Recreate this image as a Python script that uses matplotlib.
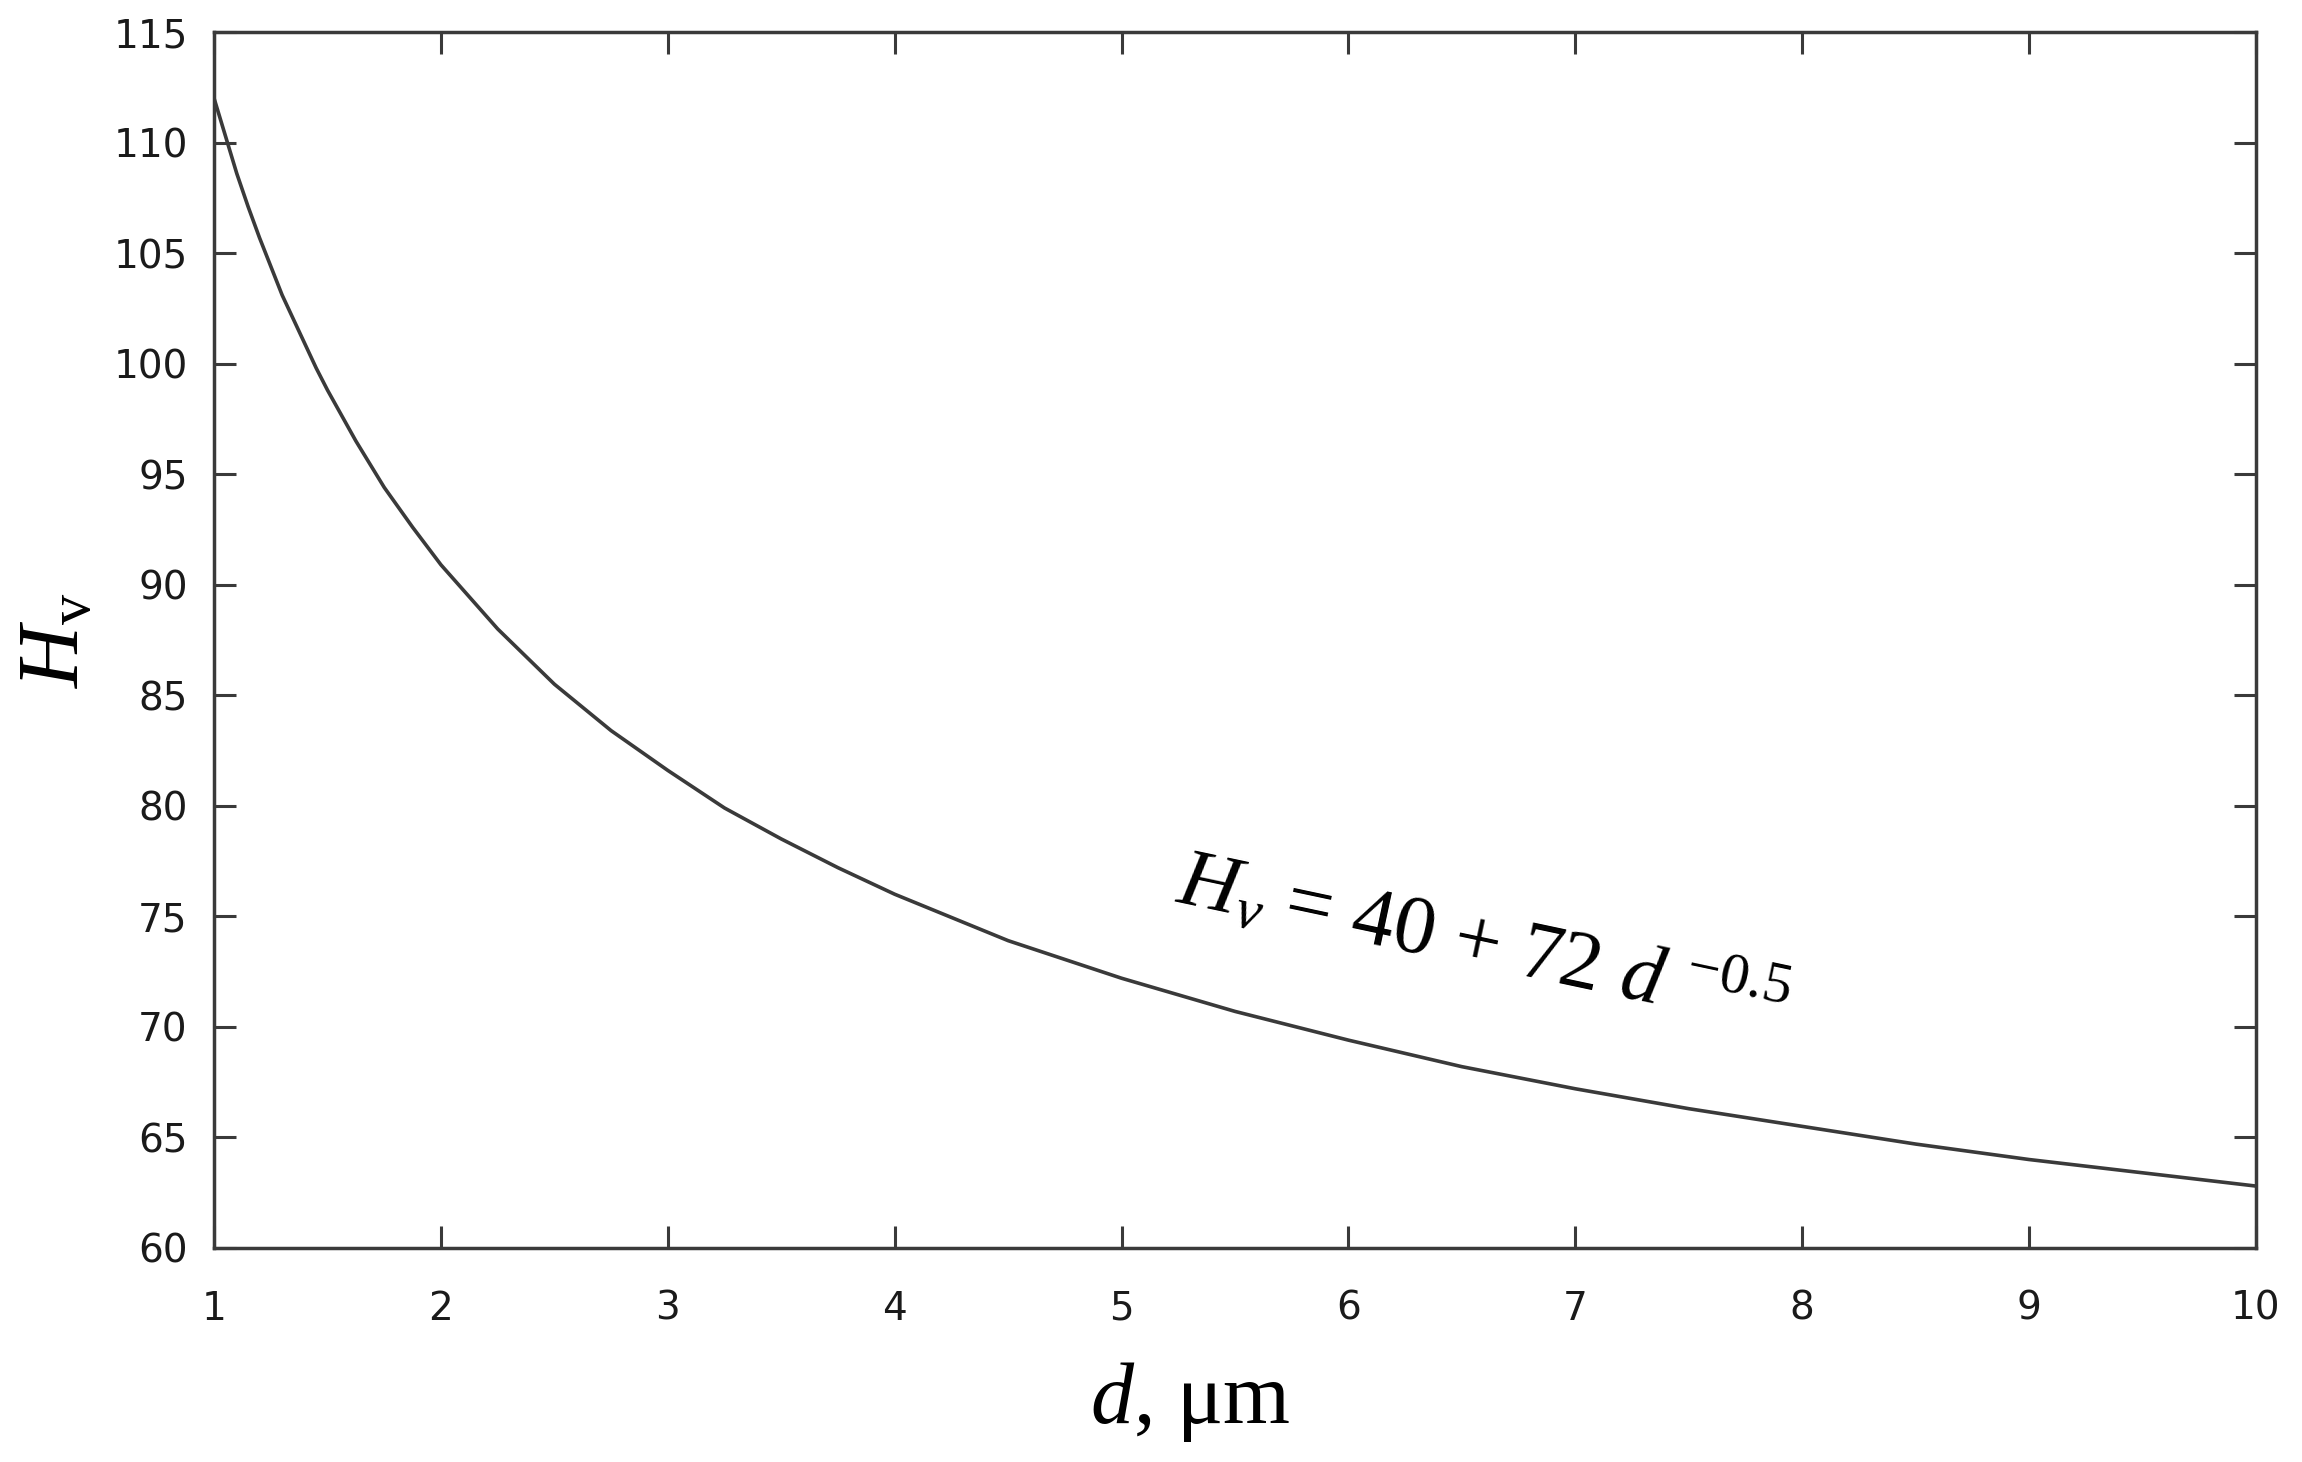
import matplotlib
matplotlib.use('Agg')
import matplotlib.pyplot as plt

# grain size d (um) and Vickers hardness
d_um = [1.0, 1.05, 1.1, 1.15, 1.2, 1.25, 1.3, 1.35, 1.4, 1.45, 1.5, 1.625,
        1.75, 1.875, 2.0, 2.25, 2.5, 2.75, 3.0, 3.25, 3.5, 3.75, 4.0, 4.5,
        5.0, 5.5, 6.0, 6.5, 7.0, 7.5, 8.0, 8.5, 9.0, 9.5, 10.0]
hv = [112.0, 110.3, 108.6, 107.1, 105.7, 104.4, 103.1, 102.0, 100.9, 99.8,
      98.8, 96.5, 94.4, 92.6, 90.9, 88.0, 85.5, 83.4, 81.6, 79.9, 78.5, 77.2,
      76.0, 73.9, 72.2, 70.7, 69.4, 68.2, 67.2, 66.3, 65.5, 64.7, 64.0, 63.4,
      62.8]

x_ticks = [1, 2, 3, 4, 5, 6, 7, 8, 9, 10]
y_ticks = [60, 65, 70, 75, 80, 85, 90, 95, 100, 105, 110, 115]

plt.rcParams['mathtext.fontset'] = 'custom'
plt.rcParams['mathtext.rm'] = 'Liberation Serif'
plt.rcParams['mathtext.it'] = 'Liberation Serif:italic'

fig = plt.figure(figsize=(23.02, 14.62), dpi=100)
ax = fig.add_axes([0.093, 0.1464, 0.887, 0.8317])

ax.plot(d_um, hv, color='#3a3a3a', lw=2.6)

ax.set_xlim(1, 10)
ax.set_ylim(60, 115)
ax.set_xticks(x_ticks)
ax.set_yticks(y_ticks)

for s in ax.spines.values():
    s.set_linewidth(2.5)
    s.set_color('#3a3a3a')

ax.tick_params(direction='in', length=16, width=2.2, color='#3a3a3a',
               top=True, right=True, labelsize=28, labelcolor='#1a1a1a')
ax.tick_params(axis='x', pad=30)
ax.tick_params(axis='y', pad=19)

ax.set_xlabel(r'$d$, μm', fontsize=62, family='Liberation Serif')
ax.xaxis.set_label_coords(0.478, -0.092)
ax.set_ylabel(r'$H_{\mathrm{v}}$', fontsize=62, family='Liberation Serif')
ax.yaxis.set_label_coords(-0.057, 0.5)

# equation label, slanted along the curve
ax.text(5.23, 75.65, r'$H_v$ = 40 + 72 $d$ $^{-0.5}$', fontsize=60,
        family='Liberation Serif', rotation=-12, rotation_mode='anchor',
        ha='left', va='baseline')

fig.savefig('out.png', dpi=100)
